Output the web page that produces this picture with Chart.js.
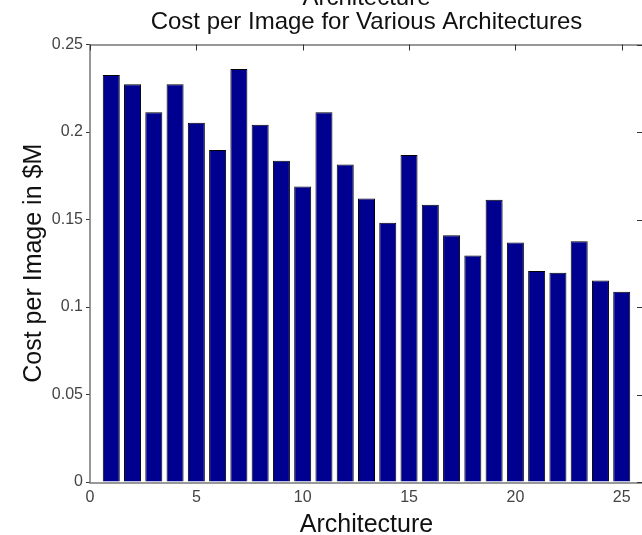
<!DOCTYPE html>
<html>
<head>
<meta charset="utf-8">
<script src="https://cdn.jsdelivr.net/npm/chart.js@4"></script>
<style>
  html, body { margin: 0; padding: 0; background: #fff; overflow: hidden; width: 642px; height: 535px; }
  #wrap { position: absolute; left: 0; top: -20px; }
</style>
</head>
<body>
<div id="wrap"><canvas id="c" width="660" height="560"></canvas></div>
<script>
// Architecture index and its cost per image (in $M)
const architectures = [1, 2, 3, 4, 5, 6, 7, 8, 9, 10, 11, 12, 13, 14, 15, 16, 17, 18, 19, 20, 21, 22, 23, 24, 25];
const costPerImage = [0.2326, 0.2273, 0.2113, 0.2273, 0.2053, 0.1897, 0.2360, 0.2042, 0.1836, 0.1688,
                      0.2113, 0.1815, 0.1620, 0.1482, 0.1869, 0.1585, 0.1410, 0.1295, 0.1613, 0.1368,
                      0.1206, 0.1196, 0.1376, 0.1152, 0.1087];

// Axis ticks
const xTickValues = [0, 5, 10, 15, 20, 25];
const yTickValues = [0, 0.05, 0.1, 0.15, 0.2, 0.25];
const yTickLabels = ['0', '0.05', '0.1', '0.15', '0.2', '0.25'];

// Text
const titleLines = ['Architecture', 'Cost per Image for Various Architectures'];
const xAxisTitle = 'Architecture';
const yAxisTitle = 'Cost per Image in $M';

const FONT = 'Liberation Sans, Arial, Helvetica, sans-serif';
const FRAME_COLOR = '#777';
const TICK_COLOR = '#333';
const TEXT_COLOR = '#111';

// Title lines centred over the plot area (last line sits just above the frame)
const axesTitle = {
  id: 'axesTitle',
  afterDraw(chart) {
    const { ctx, chartArea: a } = chart;
    const cx = (a.left + a.right) / 2;
    const lineGap = 24;
    const lastBaseline = a.top - 16;
    ctx.save();
    ctx.fillStyle = TEXT_COLOR;
    ctx.font = '24px ' + FONT;
    ctx.textAlign = 'center';
    ctx.textBaseline = 'alphabetic';
    titleLines.forEach((line, i) => {
      ctx.fillText(line, cx, lastBaseline - (titleLines.length - 1 - i) * lineGap);
    });
    ctx.restore();
  }
};

// Closed axes box with inward tick marks on the top and right edges
const boxFrame = {
  id: 'boxFrame',
  afterDatasetsDraw(chart) {
    const { ctx, chartArea: a, scales: { x, y } } = chart;
    ctx.save();
    ctx.strokeStyle = FRAME_COLOR;
    ctx.lineWidth = 1.5;
    ctx.strokeRect(Math.round(a.left), Math.round(a.top), Math.round(a.right - a.left), Math.round(a.bottom - a.top));
    ctx.strokeStyle = TICK_COLOR;
    ctx.lineWidth = 1;
    ctx.beginPath();
    xTickValues.forEach(v => {
      const px = Math.round(x.getPixelForValue(v)) + 0.5;
      ctx.moveTo(px, a.top);
      ctx.lineTo(px, a.top + 6);
    });
    yTickValues.forEach(v => {
      const py = Math.round(y.getPixelForValue(v)) + 0.5;
      ctx.moveTo(a.right, py);
      ctx.lineTo(a.right - 6, py);
    });
    ctx.stroke();
    ctx.restore();
  }
};

Chart.defaults.font.family = FONT;

new Chart(document.getElementById('c'), {
  type: 'bar',
  data: {
    datasets: [{
      data: architectures.map((a, i) => ({ x: a, y: costPerImage[i] })),
      backgroundColor: '#000090',
      borderColor: '#000000',
      borderWidth: 1,
      barPercentage: 0.8,
      categoryPercentage: 1.0
    }]
  },
  options: {
    responsive: false,
    animation: false,
    layout: { padding: { left: 0, right: 17, top: 64.5, bottom: 0 } },
    plugins: {
      legend: { display: false },
      tooltip: { enabled: false },
      title: { display: false }
    },
    scales: {
      x: {
        type: 'linear',
        min: 0,
        max: 26,
        offset: false,
        afterBuildTicks: s => { s.ticks = xTickValues.map(v => ({ value: v })); },
        afterFit: s => { s.height = 58; },
        ticks: { color: '#444', font: { size: 16 }, padding: 6, maxRotation: 0, autoSkip: false },
        grid: { display: false, drawTicks: false },
        border: { display: false },
        title: {
          display: true,
          text: xAxisTitle,
          color: TEXT_COLOR,
          font: { size: 25, lineHeight: 1.1 },
          padding: { top: 0, bottom: 1.5 }
        }
      },
      y: {
        min: 0,
        max: 0.25,
        afterBuildTicks: s => { s.ticks = yTickValues.map(v => ({ value: v })); },
        afterFit: s => { s.width = 90; },
        ticks: {
          color: '#444',
          font: { size: 16 },
          padding: 3,
          callback: v => yTickLabels[yTickValues.indexOf(v)]
        },
        grid: { drawOnChartArea: false, drawTicks: true, tickLength: 4, color: TICK_COLOR },
        border: { display: false },
        title: {
          display: true,
          text: yAxisTitle,
          color: TEXT_COLOR,
          font: { size: 25, lineHeight: 1.1 },
          padding: { top: 20, bottom: 0 }
        }
      }
    }
  },
  plugins: [boxFrame, axesTitle]
});
</script>
</body>
</html>
